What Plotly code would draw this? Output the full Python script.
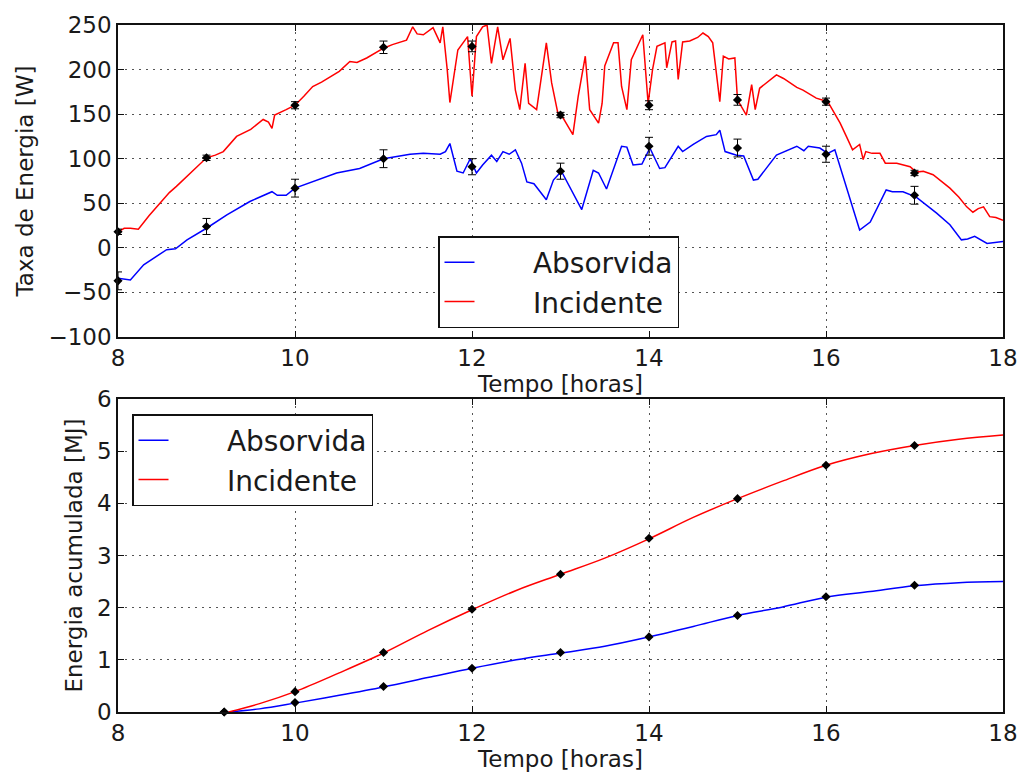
import plotly.graph_objects as go

# ---------------- data: top panel (energy rate, W) ----------------
inc_hours = [8.0, 8.07, 8.14, 8.23, 8.35, 8.47, 8.58, 8.66, 8.8, 9.0, 9.1, 9.19, 9.34, 9.5, 9.64, 9.7, 9.74, 9.77,
             9.9, 10.0, 10.1, 10.2, 10.3, 10.4, 10.5, 10.62, 10.7, 10.81, 10.9, 11.0, 11.1, 11.26, 11.33, 11.38,
             11.45, 11.56, 11.64, 11.67, 11.72, 11.75, 11.84, 11.95, 12.0, 12.05, 12.12, 12.17, 12.22, 12.29,
             12.35, 12.43, 12.49, 12.54, 12.6, 12.64, 12.73, 12.84, 12.9, 12.97, 13.01, 13.08, 13.14, 13.2,
             13.28, 13.33, 13.43, 13.47, 13.5, 13.6, 13.65, 13.69, 13.75, 13.8, 13.93, 13.99, 14.04, 14.09,
             14.18, 14.2, 14.26, 14.3, 14.33, 14.38, 14.46, 14.55, 14.61, 14.67, 14.72, 14.8, 14.84, 14.9,
             14.97, 15.0, 15.05, 15.1, 15.16, 15.2, 15.25, 15.35, 15.44, 15.52, 15.59, 15.67, 15.74, 15.82,
             15.89, 16.02, 16.1, 16.16, 16.23, 16.3, 16.38, 16.42, 16.45, 16.52, 16.61, 16.67, 16.8, 16.95,
             17.02, 17.1, 17.21, 17.3, 17.4, 17.5, 17.59, 17.66, 17.72, 17.78, 17.85, 17.92, 18.0]
inc_vals = [18, 22, 22, 21, 36, 50, 62, 69, 82, 101, 104, 108, 125, 133, 144, 141, 134, 149,
            155, 160, 170, 181, 186, 192, 198, 209, 208, 213, 218, 224, 228, 233, 248, 240,
            239, 247, 230, 248, 200, 163, 222, 237, 170, 237, 248, 250, 207, 248,
            211, 235, 177, 155, 207, 162, 155, 230, 185, 151, 149, 138, 127, 170,
            215, 155, 140, 162, 204, 230, 230, 181, 155, 211, 239, 162, 200, 226,
            230, 202, 231, 232, 189, 231, 232, 236, 241, 237, 230, 164, 215, 212,
            213, 166, 157, 149, 183, 155, 179, 187, 194, 190, 185, 180, 177, 172,
            168, 164, 150, 140, 125, 110, 116, 99, 108, 106, 106, 95, 95, 91,
            85, 86, 82, 75, 67, 57, 46, 40, 44, 46, 35, 34, 31]

abs_hours = [8.0, 8.14, 8.29, 8.42, 8.55, 8.65, 8.78, 9.0, 9.23, 9.49, 9.74, 9.8, 9.9, 10.0, 10.24, 10.47,
             10.73, 10.92, 11.0, 11.3, 11.45, 11.64, 11.7, 11.75, 11.83, 11.9, 11.98, 12.05, 12.12, 12.22,
             12.28, 12.35, 12.42, 12.49, 12.56, 12.62, 12.7, 12.84, 12.92, 13.01, 13.14, 13.24, 13.37,
             13.43, 13.52, 13.69, 13.75, 13.82, 13.92, 14.01, 14.12, 14.18, 14.33, 14.38, 14.5, 14.65,
             14.76, 14.8, 14.86, 14.99, 15.07, 15.18, 15.23, 15.44, 15.67, 15.75, 15.8, 15.93, 16.02,
             16.1, 16.38, 16.5, 16.68, 16.75, 16.87, 17.02, 17.25, 17.4, 17.53, 17.6, 17.68, 17.82, 18.0]
abs_vals = [-34, -36, -19, -10, -2, -1, 9, 22, 37, 52, 63, 59, 59, 67, 76, 84,
            89, 97, 100, 105, 106, 105, 108, 117, 86, 84, 100, 84, 93, 104,
            97, 108, 105, 110, 95, 74, 72, 54, 76, 86, 61, 43, 87,
            84, 66, 114, 113, 93, 94, 112, 89, 90, 114, 108, 116, 125,
            127, 132, 108, 104, 103, 76, 77, 104, 114, 109, 114, 112, 106,
            110, 20, 29, 65, 63, 63, 57, 39, 26, 9, 10, 13, 5, 7]

# hourly measured points with error bars (top)
pt_hours = [8, 9, 10, 11, 12, 13, 14, 15, 16, 17]
inc_pts = [18, 101, 160, 225, 226, 149, 160, 166, 164, 84]
inc_err = [3, 3, 4, 7, 6, 3, 5, 6, 4, 3]
abs_pts = [-37, 24, 67, 100, 91, 86, 114, 112, 105, 59]
abs_err = [10, 9, 10, 10, 9, 9, 10, 10, 9, 10]

# ---------------- data: bottom panel (accumulated energy, MJ) ----------------
cum_hours = [9.25, 9.6, 10.0, 10.5, 11.0, 11.5, 12.0, 12.5, 13.0, 13.5, 14.0, 14.5, 15.0, 15.5, 16.0,
             16.5, 17.0, 17.5, 18.0]
cum_inc = [0.0, 0.16, 0.39, 0.75, 1.13, 1.56, 1.96, 2.33, 2.64, 2.95, 3.32, 3.73, 4.09, 4.42, 4.73,
           4.95, 5.11, 5.23, 5.31]
cum_abs = [0.0, 0.06, 0.17, 0.32, 0.48, 0.66, 0.84, 1.0, 1.13, 1.26, 1.44, 1.64, 1.85, 2.01, 2.2,
           2.31, 2.42, 2.48, 2.5]
cum_pt_hours = [9.2, 10, 11, 12, 13, 14, 15, 16, 17]
cum_inc_pts = [0.0, 0.39, 1.14, 1.97, 2.64, 3.33, 4.09, 4.73, 5.11]
cum_abs_pts = [0.0, 0.18, 0.49, 0.84, 1.14, 1.44, 1.85, 2.21, 2.43]

legend_names = ["Absorvida", "Incidente"]

BLUE = "#0000ff"
RED = "#ff0000"
FONT = "DejaVu Sans"
TXT = "#1a1a1a"
PAD = "\u00a0" * 6

fig = go.Figure()

# top panel
fig.add_trace(go.Scatter(x=abs_hours, y=abs_vals, mode="lines", name=PAD + legend_names[0],
                         line=dict(color=BLUE, width=1.5), xaxis="x", yaxis="y", legend="legend"))
fig.add_trace(go.Scatter(x=inc_hours, y=inc_vals, mode="lines", name=PAD + legend_names[1],
                         line=dict(color=RED, width=1.5), xaxis="x", yaxis="y", legend="legend"))
for vals, errs in ((inc_pts, inc_err), (abs_pts, abs_err)):
    fig.add_trace(go.Scatter(x=pt_hours, y=vals, mode="markers", showlegend=False,
                             marker=dict(color="black", size=7, symbol="diamond"),
                             error_y=dict(type="data", array=errs, color="black", thickness=1, width=4),
                             xaxis="x", yaxis="y", cliponaxis=False))

# bottom panel
fig.add_trace(go.Scatter(x=cum_hours, y=cum_abs, mode="lines", name=PAD + legend_names[0], line_shape="spline",
                         line=dict(color=BLUE, width=1.5), xaxis="x2", yaxis="y2", legend="legend2"))
fig.add_trace(go.Scatter(x=cum_hours, y=cum_inc, mode="lines", name=PAD + legend_names[1], line_shape="spline",
                         line=dict(color=RED, width=1.5), xaxis="x2", yaxis="y2", legend="legend2"))
for vals in (cum_inc_pts, cum_abs_pts):
    fig.add_trace(go.Scatter(x=cum_pt_hours, y=vals, mode="markers", showlegend=False,
                             marker=dict(color="black", size=7, symbol="diamond"),
                             xaxis="x2", yaxis="y2", cliponaxis=False))

axis_common = dict(showline=True, linecolor="#111", linewidth=1.6, mirror="allticks",
                   ticks="inside", ticklen=6, tickcolor="#111", tickwidth=1,
                   showgrid=True, gridcolor="#555", gridwidth=1, griddash="2px,5px",
                   zeroline=False, automargin=False,
                   tickfont=dict(family=FONT, size=23, color=TXT),
                   title_font=dict(family=FONT, size=23, color=TXT))

# body margin is removed in the page (post_script), so figure coords == window coords
W, H = 1018, 773
L, R, T, B = 118, 1003, 25, 712
ph = B - T
top_dom = [(B - 337) / ph, 1.0]
bot_dom = [0.0, (B - 399) / ph]

fig.update_layout(
    width=W, height=H,
    margin=dict(l=L, r=W - R, t=T, b=H - B, autoexpand=False),
    paper_bgcolor="white", plot_bgcolor="white",
    font=dict(family=FONT, color=TXT),
    xaxis=dict(axis_common, domain=[0, 1], range=[8, 18], tickvals=[8, 10, 12, 14, 16, 18],
               anchor="y", title=dict(text="Tempo [horas]", standoff=2)),
    yaxis=dict(axis_common, domain=top_dom, range=[-100, 250],
               tickvals=[-100, -50, 0, 50, 100, 150, 200, 250],
               ticktext=["\u2212100", "\u221250", "0", "50", "100", "150", "200", "250"],
               anchor="x", title=dict(text="Taxa de Energia [W]", standoff=8)),
    xaxis2=dict(axis_common, domain=[0, 1], range=[8, 18], tickvals=[8, 10, 12, 14, 16, 18],
                anchor="y2", title=dict(text="Tempo [horas]", standoff=2)),
    yaxis2=dict(axis_common, domain=bot_dom, range=[0, 6], tickvals=[0, 1, 2, 3, 4, 5, 6],
                anchor="x2", title=dict(text="Energia acumulada [MJ]", standoff=8)),
    legend=dict(x=(438 - L) / (R - L), y=(B - 236) / ph, xanchor="left", yanchor="top",
                bgcolor="white", bordercolor="#111", borderwidth=1.5,
                font=dict(family=FONT, size=28, color=TXT), tracegroupgap=0),
    legend2=dict(x=(132 - L) / (R - L), y=(B - 414) / ph, xanchor="left", yanchor="top",
                 bgcolor="white", bordercolor="#111", borderwidth=1.5,
                 font=dict(family=FONT, size=28, color=TXT), tracegroupgap=0),
    showlegend=True,
)

fig.write_html("out.html", config={"displayModeBar": False},
               post_script="document.body.style.margin='0';document.body.style.overflow='hidden';")
